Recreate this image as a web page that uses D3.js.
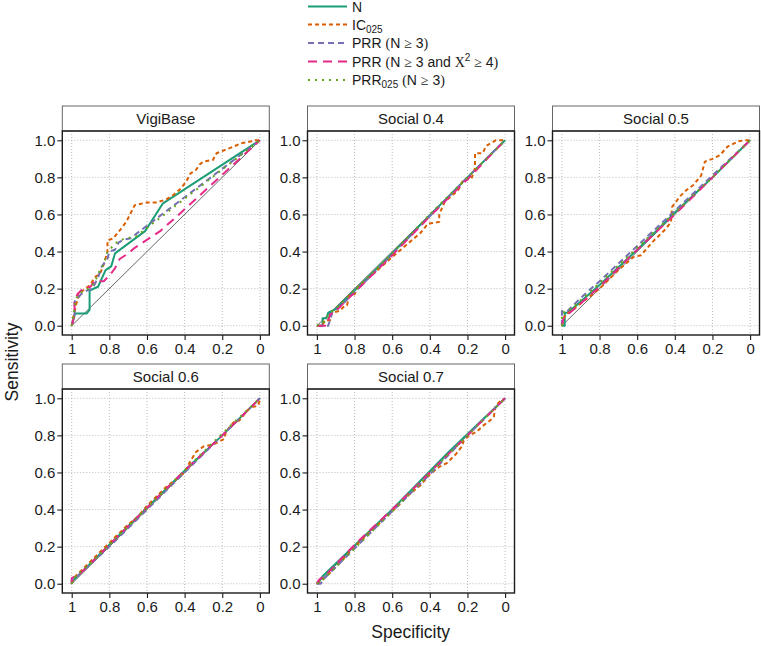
<!DOCTYPE html>
<html><head><meta charset="utf-8">
<script src="https://cdn.jsdelivr.net/npm/d3@7"></script>
<style>body{margin:0;background:#fff}svg{display:block}</style>
</head><body>
<svg id="c" width="761" height="646"></svg>
<script>
// ---------- data: [specificity, sensitivity] ----------
const panelNames = ["VigiBase", "Social 0.4", "Social 0.5", "Social 0.6", "Social 0.7"];
const seriesNames = ["N", "IC025", "PRR (N≥3)", "PRR (N≥3 and X²≥4)", "PRR025 (N≥3)"];
const xTicks = [1, 0.8, 0.6, 0.4, 0.2, 0];
const yTicks = [0, 0.2, 0.4, 0.6, 0.8, 1];

const vigiN = [[1,0],[0.982,0.066],[0.92,0.066],[0.905,0.085],[0.905,0.19],[0.86,0.21],[0.82,0.30],[0.79,0.32],[0.77,0.39],[0.61,0.51],[0.515,0.66],[0,1]];
const vigiIC = [[1,0],[0.99,0.05],[0.975,0.12],[0.96,0.17],[0.93,0.2],[0.9,0.22],[0.88,0.26],[0.85,0.28],[0.83,0.33],[0.81,0.40],[0.81,0.46],[0.78,0.47],[0.74,0.52],[0.71,0.56],[0.69,0.60],[0.665,0.65],[0.6,0.665],[0.55,0.665],[0.5,0.68],[0.46,0.705],[0.42,0.74],[0.39,0.78],[0.37,0.82],[0.34,0.84],[0.32,0.87],[0.30,0.885],[0.25,0.894],[0.23,0.93],[0.18,0.95],[0.14,0.966],[0.1,0.984],[0.05,0.993],[0.03,1],[0,1]];
const vigiPRR = [[1,0],[0.985,0.06],[0.985,0.13],[0.95,0.17],[0.92,0.19],[0.89,0.2],[0.86,0.26],[0.84,0.32],[0.81,0.36],[0.80,0.40],[0.77,0.41],[0.75,0.45],[0.72,0.465],[0.69,0.47],[0,1]];
const vigiPRRchi = [[1,0],[0.985,0.06],[0.985,0.12],[0.97,0.17],[0.94,0.2],[0.9,0.21],[0.88,0.24],[0.83,0.24],[0.8,0.27],[0.77,0.31],[0.745,0.36],[0.7,0.39],[0.665,0.42],[0.53,0.51],[0.43,0.6],[0,1]];
const vigiPRR025 = [[1,0],[0.985,0.1],[0.975,0.15],[0.95,0.18],[0.91,0.2],[0.88,0.23],[0.85,0.3],[0.83,0.33],[0.81,0.4],[0.79,0.42],[0.76,0.45],[0.72,0.47],[0.66,0.48],[0,1]];

const s04N = [[1,0],[0.97,0],[0.97,0.04],[0.95,0.04],[0.94,0.07],[0.9,0.09],[0.8,0.19],[0.6,0.39],[0.4,0.595],[0.2,0.8],[0,1]];
const s04IC = [[1,0],[0.97,0],[0.96,0.03],[0.93,0.03],[0.92,0.07],[0.88,0.08],[0.86,0.1],[0.84,0.11],[0.83,0.16],[0.8,0.17],[0.78,0.21],[0.7,0.28],[0.6,0.37],[0.52,0.44],[0.45,0.5],[0.41,0.55],[0.35,0.56],[0.35,0.6],[0.32,0.67],[0.25,0.73],[0.22,0.79],[0.18,0.79],[0.16,0.85],[0.16,0.93],[0.12,0.93],[0.1,0.97],[0.05,1],[0,1]];
const s04PRR = [[1,0],[0.94,0],[0.93,0.03],[0.92,0.07],[0.88,0.1],[0.8,0.18],[0.6,0.385],[0.4,0.59],[0.2,0.8],[0,1]];
const s04PRRchi = [[1,0],[0.95,0],[0.93,0.06],[0.9,0.08],[0.8,0.18],[0.6,0.38],[0.4,0.59],[0.2,0.79],[0,1]];
const s04PRR025 = [[1,0],[0.96,0.02],[0.93,0.07],[0.88,0.11],[0.8,0.19],[0.6,0.39],[0.4,0.6],[0.2,0.8],[0,1]];

const s05N = [[1,0],[0.985,0],[0.985,0.07],[0.97,0.07],[0.9,0.13],[0.8,0.22],[0.6,0.41],[0.4,0.61],[0.2,0.8],[0,1]];
const s05IC = [[1,0],[0.99,0.04],[0.98,0.06],[0.95,0.08],[0.9,0.12],[0.8,0.2],[0.7,0.3],[0.62,0.37],[0.58,0.38],[0.52,0.45],[0.45,0.52],[0.42,0.56],[0.415,0.64],[0.37,0.7],[0.34,0.73],[0.3,0.76],[0.26,0.81],[0.24,0.885],[0.2,0.9],[0.16,0.92],[0.12,0.966],[0.06,0.995],[0.03,1],[0,1]];
const s05PRR = [[1,0],[1,0.08],[0.97,0.08],[0.95,0.1],[0.9,0.15],[0.8,0.24],[0.6,0.43],[0.4,0.62],[0.2,0.81],[0,1]];
const s05PRRchi = [[1,0],[0.99,0.05],[0.97,0.06],[0.9,0.12],[0.8,0.21],[0.6,0.41],[0.4,0.6],[0.2,0.8],[0,1]];
const s05PRR025 = [[1,0],[1,0.07],[0.97,0.08],[0.93,0.11],[0.8,0.23],[0.6,0.42],[0.4,0.61],[0.2,0.8],[0,1]];

const s06N = [[1,0],[0.99,0.02],[0.95,0.06],[0.8,0.21],[0.6,0.41],[0.4,0.61],[0.2,0.8],[0,1]];
const s06IC = [[1,0],[0.99,0.03],[0.95,0.07],[0.9,0.12],[0.8,0.22],[0.7,0.32],[0.65,0.36],[0.6,0.42],[0.5,0.52],[0.45,0.56],[0.4,0.6],[0.37,0.66],[0.34,0.71],[0.3,0.74],[0.25,0.75],[0.19,0.78],[0.18,0.82],[0.14,0.87],[0.11,0.88],[0.07,0.93],[0.05,0.95],[0.01,0.96],[0,0.99],[0,1]];
const s06PRR = [[1,0],[1,0.02],[0.97,0.04],[0.8,0.2],[0.6,0.4],[0.4,0.6],[0.2,0.8],[0,1]];
const s06PRRchi = [[1,0],[1,0.03],[0.96,0.05],[0.8,0.21],[0.6,0.41],[0.4,0.61],[0.2,0.8],[0,1]];
const s06PRR025 = [[1,0],[0.99,0.03],[0.9,0.11],[0.6,0.41],[0.2,0.81],[0,1]];

const s07N = [[1,0],[0.99,0.01],[0.97,0.04],[0.6,0.4],[0.3,0.71],[0,1]];
const s07IC = [[1,0],[0.98,0.01],[0.9,0.09],[0.8,0.2],[0.6,0.39],[0.5,0.49],[0.45,0.53],[0.4,0.59],[0.35,0.63],[0.31,0.65],[0.26,0.7],[0.23,0.74],[0.22,0.77],[0.19,0.8],[0.15,0.82],[0.12,0.85],[0.08,0.88],[0.06,0.9],[0.05,0.96],[0.02,0.99],[0,1]];
const s07PRR = [[1,0],[0.98,0],[0.96,0.03],[0.8,0.19],[0.6,0.39],[0.4,0.59],[0.2,0.8],[0,1]];
const s07PRRchi = [[1,0],[0.99,0.02],[0.95,0.05],[0.8,0.21],[0.6,0.4],[0.4,0.6],[0.2,0.8],[0,1]];
const s07PRR025 = [[1,0],[0.98,0.01],[0.9,0.09],[0.6,0.39],[0.3,0.7],[0,1]];

const panelData = [
  [vigiN, vigiIC, vigiPRR, vigiPRRchi, vigiPRR025],
  [s04N, s04IC, s04PRR, s04PRRchi, s04PRR025],
  [s05N, s05IC, s05PRR, s05PRRchi, s05PRR025],
  [s06N, s06IC, s06PRR, s06PRRchi, s06PRR025],
  [s07N, s07IC, s07PRR, s07PRRchi, s07PRR025]
];

// ---------- styling ----------
const colors = ["#1B9E77", "#D95F02", "#7570B3", "#E7298A", "#66A61E"];
const dashes = [null, "4,3", "6,4", "9,6", "2,5"];
const FONT = "'Liberation Sans', Arial, sans-serif";
const SERIF = "'Liberation Serif', 'Times New Roman', serif";

const svg = d3.select("#c");
const colX = [62.3, 307.5, 552.5];
const rowY = [131, 389];
const PW = 207, PH = 204, STRIP = 25;

const x = d3.scaleLinear().domain([1.05, -0.05]).range([0, PW]);
const y = d3.scaleLinear().domain([-0.05, 1.05]).range([PH, 0]);
const line = d3.line().x(d => x(d[0])).y(d => y(d[1]));

panelNames.forEach((name, i) => {
  const col = i % 3, row = Math.floor(i / 3);
  const g = svg.append("g").attr("transform", `translate(${colX[col]},${rowY[row]})`);

  // strip
  g.append("rect").attr("x", 0).attr("y", -STRIP).attr("width", PW).attr("height", STRIP)
    .attr("fill", "#fff").attr("stroke", "#666").attr("stroke-width", 1);
  g.append("text").attr("x", PW / 2).attr("y", -STRIP / 2 + 5.5).attr("text-anchor", "middle")
    .attr("font-family", FONT).attr("font-size", 15).attr("fill", "#1a1a1a").text(name);

  // grid
  g.selectAll(".gx").data(xTicks).enter().append("line")
    .attr("x1", d => x(d)).attr("x2", d => x(d)).attr("y1", 0).attr("y2", PH)
    .attr("stroke", "#aaa").attr("stroke-width", 0.8).attr("stroke-dasharray", "1,2");
  g.selectAll(".gy").data(yTicks).enter().append("line")
    .attr("y1", d => y(d)).attr("y2", d => y(d)).attr("x1", 0).attr("x2", PW)
    .attr("stroke", "#aaa").attr("stroke-width", 0.8).attr("stroke-dasharray", "1,2");

  // diagonal reference
  g.append("path").attr("d", line([[1, 0], [0, 1]])).attr("stroke", "#555")
    .attr("stroke-width", 0.9).attr("fill", "none");

  // curves
  panelData[i].forEach((pts, s) => {
    g.append("path").attr("d", line(pts)).attr("fill", "none")
      .attr("stroke", colors[s]).attr("stroke-width", 2)
      .attr("stroke-dasharray", dashes[s]).attr("stroke-linejoin", "round");
  });

  // border
  g.append("rect").attr("width", PW).attr("height", PH).attr("fill", "none")
    .attr("stroke", "#1a1a1a").attr("stroke-width", 1.4);

  // axes
  const ax = g.append("g").attr("transform", `translate(0,${PH})`)
    .call(d3.axisBottom(x).tickValues(xTicks).tickSize(5).tickPadding(3)
      .tickFormat(d => (d === 1 ? "1" : d === 0 ? "0" : d3.format(".1f")(d))));
  const ay = g.append("g")
    .call(d3.axisLeft(y).tickValues(yTicks).tickSize(5).tickPadding(2).tickFormat(d3.format(".1f")));
  [ax, ay].forEach(a => {
    a.select(".domain").remove();
    a.selectAll("line").attr("stroke", "#1a1a1a").attr("stroke-width", 1.1);
    a.selectAll("text").attr("font-family", FONT).attr("font-size", 15).attr("fill", "#1a1a1a");
  });
});

// axis titles
svg.append("text").attr("x", 410.7).attr("y", 638).attr("text-anchor", "middle")
  .attr("font-family", FONT).attr("font-size", 17.5).attr("fill", "#1a1a1a").text("Specificity");
svg.append("text").attr("transform", "translate(18,362) rotate(-90)").attr("text-anchor", "middle")
  .attr("font-family", FONT).attr("font-size", 17.5).attr("fill", "#1a1a1a").text("Sensitivity");

// legend
const legY = [6.5, 24.5, 43, 61.5, 80];
const leg = svg.append("g");
seriesNames.forEach((nm, s) => {
  leg.append("line").attr("x1", 308).attr("x2", 347).attr("y1", legY[s]).attr("y2", legY[s])
    .attr("stroke", colors[s]).attr("stroke-width", 2).attr("stroke-dasharray", dashes[s]);
  const t = leg.append("text").attr("x", 352).attr("y", legY[s] + 5)
    .attr("font-family", FONT).attr("font-size", 14).attr("fill", "#1a1a1a");
  if (s === 0) t.text("N");
  if (s === 1) { t.append("tspan").text("IC"); t.append("tspan").attr("font-size", 10).attr("dy", 3).text("025"); }
  if (s === 2) {
    t.append("tspan").text("PRR ");
    t.append("tspan").attr("font-family", SERIF).text("(");
    t.append("tspan").text("N ");
    t.append("tspan").attr("font-family", SERIF).text("≥");
    t.append("tspan").text(" 3");
    t.append("tspan").attr("font-family", SERIF).text(")");
  }
  if (s === 3) {
    t.append("tspan").text("PRR ");
    t.append("tspan").attr("font-family", SERIF).text("(");
    t.append("tspan").text("N ");
    t.append("tspan").attr("font-family", SERIF).text("≥");
    t.append("tspan").text(" 3 and ");
    t.append("tspan").attr("font-family", SERIF).text("X");
    t.append("tspan").attr("font-size", 10).attr("dy", -6).text("2");
    t.append("tspan").attr("dy", 6).text(" ");
    t.append("tspan").attr("font-family", SERIF).text("≥");
    t.append("tspan").text(" 4");
    t.append("tspan").attr("font-family", SERIF).text(")");
  }
  if (s === 4) {
    t.append("tspan").text("PRR");
    t.append("tspan").attr("font-size", 10).attr("dy", 3).text("025");
    t.append("tspan").attr("dy", -3).text(" ");
    t.append("tspan").attr("font-family", SERIF).text("(");
    t.append("tspan").text("N ");
    t.append("tspan").attr("font-family", SERIF).text("≥");
    t.append("tspan").text(" 3");
    t.append("tspan").attr("font-family", SERIF).text(")");
  }
});
</script>
</body></html>
